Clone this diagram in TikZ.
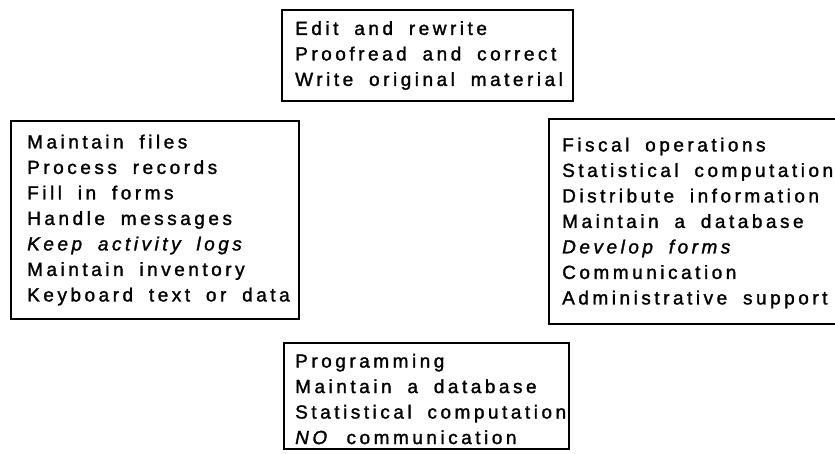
\documentclass[tikz,border=0pt]{standalone}
\usepackage{fontspec}
\setmainfont{Liberation Sans}[LetterSpace=18.5, WordSpace=1.8, FakeBold=1.5]
\begin{document}
\begin{tikzpicture}[x=1pt,y=-1pt,
  boxrect/.style={draw, line width=2pt, anchor=north west, inner sep=0pt},
  txt/.style={anchor=west, align=left, inner sep=0pt, font=\fontsize{19}{25.5}\selectfont}]
\useasboundingbox (0,0) rectangle (835,453);
\clip (0,0) rectangle (835,453);
% boxes
\node[boxrect, minimum width=291pt, minimum height=91pt] (topbox) at (281,9) {};
\node[boxrect, minimum width=288pt, minimum height=198pt] (leftbox) at (10,120) {};
\node[boxrect, minimum width=300pt, minimum height=205pt] (rightbox) at (548,118) {};
\node[boxrect, minimum width=285pt, minimum height=106pt] (bottombox) at (283,342) {};
% texts
\node[txt] (toptext) at ([xshift=14pt]topbox.west) {Edit and rewrite\\Proofread and correct\\Write original material};
\node[txt] (lefttext) at ([xshift=17pt]leftbox.west) {Maintain files\\Process records\\Fill in forms\\Handle messages\\\textit{Keep activity logs}\\Maintain inventory\\Keyboard text or data};
\node[txt] (righttext) at ([xshift=14pt,yshift=-1.5pt]rightbox.west) {Fiscal operations\\Statistical computation\\Distribute information\\Maintain a database\\\textit{Develop forms}\\Communication\\Administrative support};
\node[txt] (bottomtext) at ([xshift=12pt,yshift=-3pt]bottombox.west) {Programming\\Maintain a database\\Statistical computation\\\textit{NO} communication};
\end{tikzpicture}
\end{document}
